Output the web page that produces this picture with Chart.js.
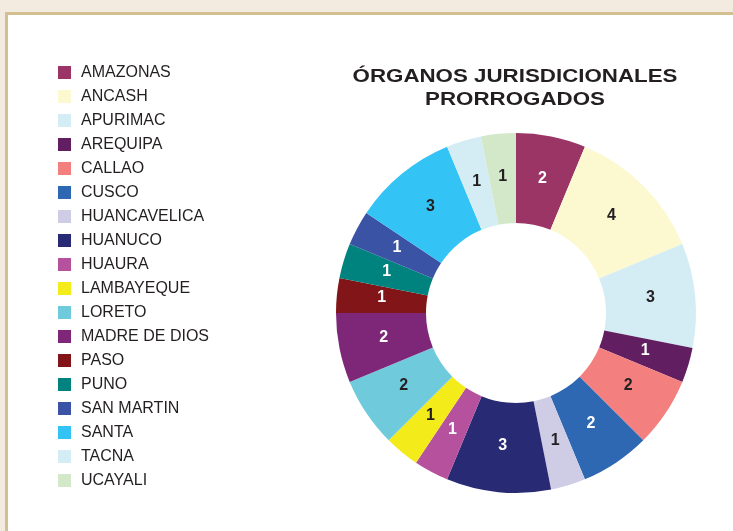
<!DOCTYPE html>
<html>
<head>
<meta charset="utf-8">
<script src="https://cdn.jsdelivr.net/npm/chart.js@4/dist/chart.umd.min.js"></script>
<style>
  html, body { margin: 0; padding: 0; }
  body { width: 733px; height: 531px; background: #f3ebe0; position: relative; overflow: hidden; font-family: 'Liberation Sans', Arial, sans-serif; }
  #panel { position: absolute; left: 5px; top: 12px; right: -10px; bottom: -10px; background: #fff; border-top: 3px solid #d3bf8f; border-left: 3px solid #d3bf8f; }
  #chartWrap { position: absolute; left: 0; top: 0; width: 733px; height: 531px; }
  .leg-row { position: absolute; left: 0; height: 24px; line-height: 24px; font-size: 16px; color: #231f20; white-space: nowrap; }
  .leg-box { position: absolute; left: 58px; top: 5.5px; width: 13px; height: 13px; }
  .leg-text { position: absolute; left: 81px; top: 0; }
  .title-line { position: absolute; left: 315px; width: 400px; text-align: center; font-weight: bold; font-size: 18px; line-height: 23px; color: #231f20; transform: scaleX(1.24); transform-origin: 200px 50%; }
</style>
</head>
<body>
<div id="panel"></div>
<div id="chartWrap"><canvas id="c" width="733" height="531"></canvas></div>
<div id="legend"></div>
<div id="title"></div>
<script>
const titleLines = ['ÓRGANOS JURISDICIONALES', 'PRORROGADOS'];
const categories = ['AMAZONAS','ANCASH','APURIMAC','AREQUIPA','CALLAO','CUSCO','HUANCAVELICA','HUANUCO','HUAURA','LAMBAYEQUE','LORETO','MADRE DE DIOS','PASO','PUNO','SAN MARTIN','SANTA','TACNA','UCAYALI'];
const values = [2,4,3,1,2,2,1,3,1,1,2,2,1,1,1,3,1,1];
const colors = ['#9b3566','#fcf8d0','#d4edf4','#611f62','#f47f7f','#2e68b2','#cfcce6','#282a73','#b5519d','#f4eb1a','#6fcbdc','#7e2779','#821517','#00827e','#3b53a4','#33c4f5','#d4edf4','#d2e8c9'];
const labelColors = ['#ffffff','#231f20','#231f20','#ffffff','#231f20','#ffffff','#231f20','#ffffff','#ffffff','#231f20','#231f20','#ffffff','#ffffff','#ffffff','#ffffff','#231f20','#231f20','#231f20'];

// HTML legend built from the data arrays
const legend = document.getElementById('legend');
categories.forEach((name, i) => {
  const row = document.createElement('div');
  row.className = 'leg-row';
  row.style.top = (60 + 24 * i) + 'px';
  row.style.width = '300px';
  const box = document.createElement('div');
  box.className = 'leg-box';
  box.style.background = colors[i];
  const txt = document.createElement('div');
  txt.className = 'leg-text';
  txt.textContent = name;
  row.appendChild(box); row.appendChild(txt);
  legend.appendChild(row);
});

const titleEl = document.getElementById('title');
titleLines.forEach((t, i) => {
  const d = document.createElement('div');
  d.className = 'title-line';
  d.style.top = (65 + 23 * i) + 'px';
  d.textContent = t;
  titleEl.appendChild(d);
});

const sliceLabels = {
  id: 'sliceLabels',
  afterDatasetsDraw(chart) {
    const ctx = chart.ctx;
    const meta = chart.getDatasetMeta(0);
    ctx.save();
    ctx.font = 'bold 16px "Liberation Sans", Arial, sans-serif';
    ctx.textAlign = 'center';
    ctx.textBaseline = 'middle';
    meta.data.forEach((arc, i) => {
      const p = arc.tooltipPosition();
      ctx.fillStyle = labelColors[i];
      ctx.fillText(String(chart.data.datasets[0].data[i]), p.x, p.y - 2);
    });
    ctx.restore();
  }
};

new Chart(document.getElementById('c'), {
  type: 'doughnut',
  data: {
    labels: categories,
    datasets: [{
      data: values,
      backgroundColor: colors,
      borderWidth: 0,
      hoverOffset: 0
    }]
  },
  options: {
    responsive: false,
    animation: false,
    cutout: '50%',
    layout: { padding: { left: 336, top: 133, right: 37, bottom: 38 } },
    plugins: {
      legend: { display: false },
      tooltip: { enabled: false },
      title: { display: false }
    }
  },
  plugins: [sliceLabels]
});
</script>
</body>
</html>
